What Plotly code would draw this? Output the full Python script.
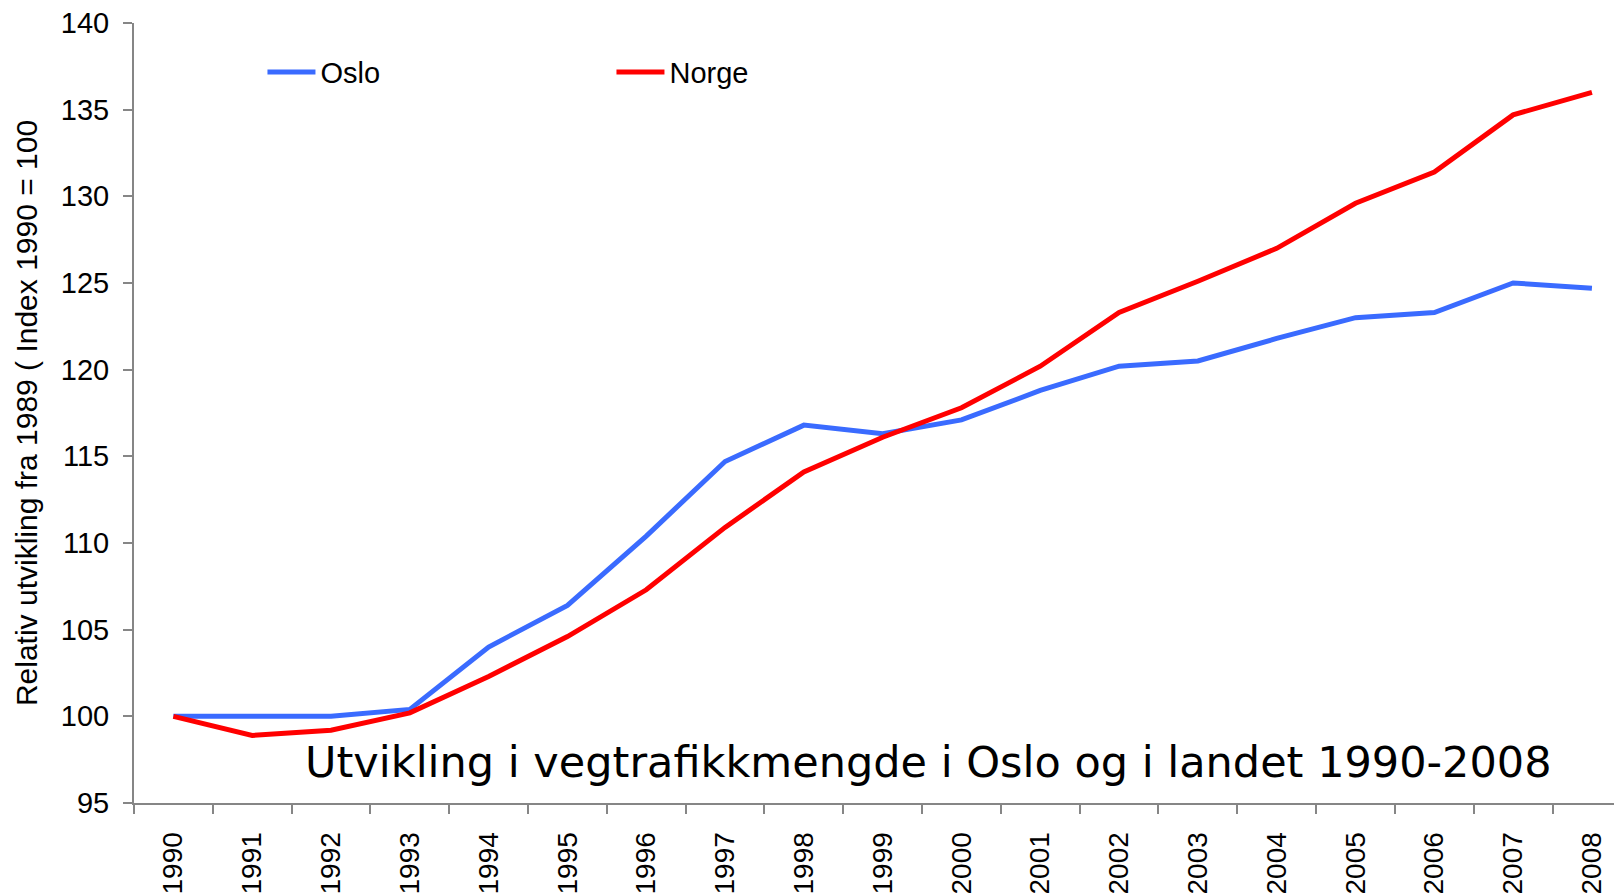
import plotly.graph_objects as go

years = [str(y) for y in range(1990, 2009)]
oslo = [100.0, 100.0, 100.0, 100.4, 104.0, 106.4, 110.4, 114.7, 116.8, 116.3,
        117.1, 118.8, 120.2, 120.5, 121.8, 123.0, 123.3, 125.0, 124.7]
norge = [100.0, 98.9, 99.2, 100.2, 102.3, 104.6, 107.3, 110.9, 114.1, 116.1,
         117.8, 120.2, 123.3, 125.1, 127.0, 129.6, 131.4, 134.7, 136.0]
y_ticks = [95, 100, 105, 110, 115, 120, 125, 130, 135, 140]

AX = "#868686"
FONT = "Liberation Sans, Arial, sans-serif"

fig = go.Figure()
fig.add_trace(go.Scatter(x=list(range(len(years))), y=oslo, name="Oslo", mode="lines",
                         line=dict(color="#3a6bff", width=5)))
fig.add_trace(go.Scatter(x=list(range(len(years))), y=norge, name="Norge", mode="lines",
                         line=dict(color="#ff0000", width=5)))

fig.update_layout(
    width=1614, height=896,
    margin=dict(l=134, r=0, t=23, b=93, autoexpand=False),
    paper_bgcolor="white", plot_bgcolor="white",
    font=dict(family=FONT, size=28, color="black"),
    showlegend=True,
    legend=dict(orientation="h", x=0.0868, y=0.937, xanchor="left", yanchor="middle",
                font=dict(size=29), entrywidth=286, entrywidthmode="pixels",
                itemwidth=48, bgcolor="rgba(0,0,0,0)", traceorder="normal"),
    xaxis=dict(range=[-0.5, 18.28], tickmode="array", automargin=False,
               tickvals=list(range(len(years))), ticktext=years,
               tickangle=-90, showgrid=False, zeroline=False,
               showline=True, linecolor=AX, linewidth=2,
               ticks="", ticklabelstandoff=16, tickfont=dict(size=28),
               minor=dict(tickmode="array", tickvals=[i - 0.5 for i in range(len(years) + 1)],
                          ticks="outside", ticklen=9, tickwidth=2, tickcolor=AX, showgrid=False)),
    yaxis=dict(range=[95, 140], tickvals=y_ticks, showgrid=False, zeroline=False,
               automargin=False, tickfont=dict(size=29),
               showline=True, linecolor=AX, linewidth=2, ticklabelstandoff=8,
               ticks="outside", ticklen=9, tickwidth=2, tickcolor=AX,
               title=dict(text="Relativ utvikling fra 1989 ( Index 1990 = 100",
                          font=dict(size=30), standoff=14)),
    annotations=[dict(text="Utvikling i vegtrafikkmengde i Oslo og i landet 1990-2008",
                      x=0.537, y=0.052, xref="paper", yref="paper",
                      xanchor="center", yanchor="middle", showarrow=False,
                      font=dict(family="DejaVu Sans, Verdana, sans-serif", size=43, color="black"))],
)

fig.write_html("out.html", config={"displayModeBar": False},
               post_script="document.body.style.margin='0';document.body.style.overflow='hidden';")
